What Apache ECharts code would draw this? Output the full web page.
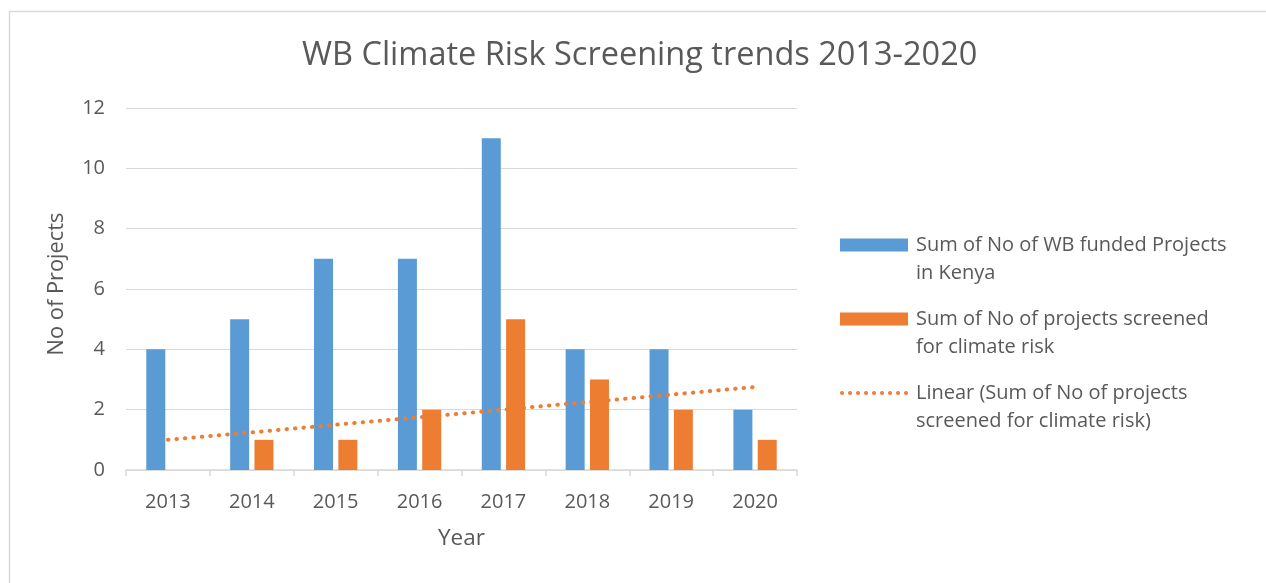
<!DOCTYPE html>
<html>
<head>
<meta charset="utf-8">
<script src="https://cdn.jsdelivr.net/npm/echarts@6/dist/echarts.min.js"></script>
<style>
html,body{margin:0;padding:0;background:#fff;}
#c{width:1266px;height:583px;}
</style>
</head>
<body>
<div id="c"></div>
<script>
var years = ['2013','2014','2015','2016','2017','2018','2019','2020'];
var fundedProjects = [4, 5, 7, 7, 11, 4, 4, 2];
var screenedProjects = [0, 1, 1, 2, 5, 3, 2, 1];
var yTicks = [0, 2, 4, 6, 8, 10, 12];

// Linear (least-squares) trendline of the screened series, as in the source chart
function linearTrend(vals) {
  var n = vals.length, sx = 0, sy = 0, sxy = 0, sxx = 0;
  for (var i = 0; i < n; i++) { var x = i + 1; sx += x; sy += vals[i]; sxy += x * vals[i]; sxx += x * x; }
  var b = (n * sxy - sx * sy) / (n * sxx - sx * sx);
  var a = (sy - b * sx) / n;
  return vals.map(function (v, i) { return +(a + b * (i + 1)).toFixed(4); });
}
var trend = linearTrend(screenedProjects);

var FONT = 'Open Sans';
var GREY = '#595959';
var names = {
  a: 'Sum of No of WB funded Projects\nin Kenya',
  b: 'Sum of No of projects screened\nfor climate risk',
  c: 'Linear (Sum of No of projects\nscreened for climate risk)'
};

// legend icons: mark sits in the top part of a 68x41 box so it lines up with the first text line
var anchors = 'M0,0h68M0,41h68';
var rectIcon = 'path://M0,0h68v13h-68zM0,41h68';
var dotPath = '';
for (var k = 0; k < 9; k++) {
  var cx = 2 + k * 8;
  dotPath += 'M' + (cx - 2) + ',6.5a2,2 0 1,0 4,0a2,2 0 1,0 -4,0z';
}
var dotIcon = 'path://' + anchors + dotPath;

var chart = echarts.init(document.getElementById('c'), null, {renderer: 'canvas'});
chart.setOption({
  backgroundColor: '#fff',
  animation: false,
  textStyle: {fontFamily: FONT, color: GREY},
  title: {
    text: 'WB Climate Risk Screening trends 2013-2020',
    left: 297, top: 34,
    textStyle: {fontFamily: FONT, fontSize: 32.5, fontWeight: 'normal', color: GREY}
  },
  graphic: [{
    type: 'rect', left: 7, top: 9, silent: true,
    shape: {width: 1400, height: 800},
    style: {fill: 'none', stroke: '#d9d9d9', lineWidth: 1.5}
  }],
  legend: {
    orient: 'vertical', left: 840, top: 231, padding: 0,
    itemWidth: 68, itemHeight: 41, itemGap: 18,
    textStyle: {fontFamily: FONT, fontSize: 20, color: GREY, lineHeight: 28, padding: [0, 0, 0, 3]},
    data: [
      {name: names.a, icon: rectIcon},
      {name: names.b, icon: rectIcon},
      {name: names.c, icon: dotIcon, itemStyle: {color: '#ED7D31'}}
    ]
  },
  grid: {left: 126, right: 469, top: 108, bottom: 113, containLabel: false},
  xAxis: {
    type: 'category', data: years,
    name: 'Year', nameLocation: 'middle', nameGap: 57,
    nameTextStyle: {fontFamily: FONT, fontSize: 22.5, color: GREY},
    axisLine: {lineStyle: {color: '#d9d9d9', width: 1.5}},
    axisTick: {show: true, length: 6, lineStyle: {color: '#d9d9d9', width: 1.5}},
    axisLabel: {fontFamily: FONT, fontSize: 20, color: GREY, margin: 22}
  },
  yAxis: {
    type: 'value', min: 0, max: 12, interval: 2,
    name: 'No of Projects', nameLocation: 'middle', nameGap: 58,
    nameTextStyle: {fontFamily: FONT, fontSize: 21.8, color: GREY, padding: [0, 0, 0, 10]},
    axisLine: {show: false}, axisTick: {show: false},
    splitLine: {lineStyle: {color: '#d9d9d9', width: 1}},
    axisLabel: {fontFamily: FONT, fontSize: 20, color: GREY, margin: 21,
      formatter: function (v) { return yTicks.indexOf(v) >= 0 ? String(v) : ''; }}
  },
  series: [
    {name: names.a, type: 'bar', data: fundedProjects, barWidth: 19, barGap: '28%',
     itemStyle: {color: '#5B9BD5'}},
    {name: names.b, type: 'bar', data: screenedProjects, barWidth: 19,
     itemStyle: {color: '#ED7D31'}},
    {name: names.c, type: 'line', data: trend, symbol: 'none', z: 5,
     lineStyle: {color: '#ED7D31', width: 4, type: [0.5, 8], cap: 'round'},
     itemStyle: {color: '#ED7D31'}}
  ]
});
</script>
</body>
</html>
